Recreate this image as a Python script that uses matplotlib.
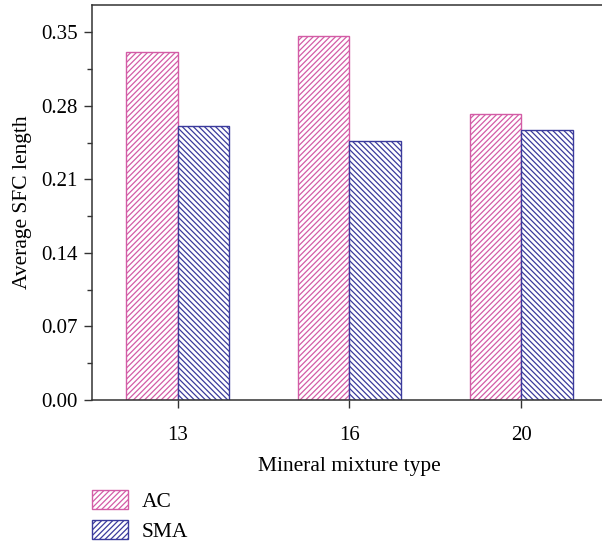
import matplotlib.pyplot as plt
import numpy as np
from matplotlib.patches import Patch
from matplotlib.ticker import MultipleLocator

# Average SFC length per mineral mixture type
tipos = ['13', '16', '20']
valores_ac = [0.331, 0.3467, 0.2721]
valores_sma = [0.2607, 0.2467, 0.2571]

color_ac = '#D35CA6'
color_sma = '#3B3B9C'

plt.rcParams['font.family'] = ['Liberation Serif', 'DejaVu Serif']
plt.rcParams['hatch.linewidth'] = 0.9

fig = plt.figure(figsize=(6.02, 5.48), dpi=100)
ax = fig.add_axes([92 / 602, 1 - 400 / 548, 515 / 602, 395 / 548])

x = np.arange(len(tipos))
ancho = 0.30
ax.bar(x - ancho / 2, valores_ac, ancho, facecolor='white', edgecolor=color_ac,
       hatch='//////', linewidth=1.0)
ax.bar(x + ancho / 2, valores_sma, ancho, facecolor='white', edgecolor=color_sma,
       hatch='\\\\\\\\\\\\', linewidth=1.0)

ax.set_xlim(-0.5, 2.5)
ax.set_ylim(0, 0.376)
ax.set_xticks(x)
ax.set_xticklabels(tipos)
ax.yaxis.set_major_locator(MultipleLocator(0.07))
ax.yaxis.set_minor_locator(MultipleLocator(0.035))
ax.yaxis.set_major_formatter(plt.FormatStrFormatter('%.2f'))

ax.tick_params(axis='both', which='major', direction='out', length=6, width=1.0,
               labelsize=15, color='#333333')
ax.tick_params(axis='y', which='minor', direction='out', length=3.5, width=1.0,
               color='#333333')
ax.tick_params(axis='x', which='major', pad=13)
ax.tick_params(axis='y', which='major', pad=4)

for lado in ax.spines.values():
    lado.set_linewidth(1.1)
    lado.set_color('#333333')

ax.set_xlabel('Mineral mixture type', fontsize=15.5, labelpad=8)
ax.set_ylabel('Average SFC length', fontsize=15.5, labelpad=7)

# Leyenda debajo del gráfico
manejadores = [
    Patch(facecolor='white', edgecolor=color_ac, hatch='//////', linewidth=1.0, label='AC'),
    Patch(facecolor='white', edgecolor=color_sma, hatch='//////', linewidth=1.0, label='SMA'),
]
fig.legend(handles=manejadores, loc='upper left',
           bbox_to_anchor=(92 / 602, 1 - 490 / 548), frameon=False, fontsize=15.5,
           borderpad=0, borderaxespad=0, handlelength=1.65, handleheight=0.95,
           handletextpad=0.65, labelspacing=0.4)

fig.savefig('out.png', dpi=100)
